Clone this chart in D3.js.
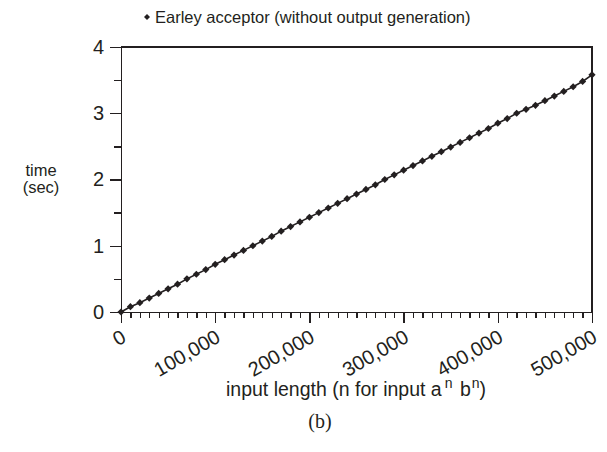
<!DOCTYPE html>
<meta charset="utf-8">
<style>
    body {
        margin: 0;
        background-color: #ffffff;
    }

    text {
        font-family: "Liberation Sans", Arial, sans-serif;
        fill: #231f20;
    }

    .axis path,
    .axis line {
        stroke: #231f20;
        stroke-width: 1.3px;
        shape-rendering: crispEdges;
    }
</style>

<body>
    <svg width="607" height="452"></svg>
    <script src="https://d3js.org/d3.v7.min.js"></script>
    <script>
        // input length n (for input a^n b^n)
        var inputLength = d3.range(0, 500001, 10000);

        // time in seconds
        var timeSec = [
            0, 0.08, 0.14, 0.21, 0.28, 0.35, 0.42, 0.50, 0.57, 0.64, 0.72,
            0.79, 0.86, 0.93, 1.00, 1.07, 1.14, 1.22, 1.29, 1.36, 1.43,
            1.50, 1.57, 1.64, 1.71, 1.78, 1.85, 1.92, 2.00, 2.07, 2.14,
            2.21, 2.28, 2.35, 2.42, 2.49, 2.56, 2.63, 2.70, 2.77, 2.85,
            2.92, 3.00, 3.06, 3.12, 3.19, 3.26, 3.33, 3.40, 3.48, 3.58
        ];

        var xTicks = [0, 100000, 200000, 300000, 400000, 500000];
        var yTicks = [0, 1, 2, 3, 4];
        var seriesName = "Earley acceptor (without output generation)";

        var data = inputLength.map(function(n, i) {
            return { n: n, t: timeSec[i] };
        });

        var svg = d3.select("svg"),
            margin = { top: 47, right: 15, bottom: 140, left: 121 },
            width = +svg.attr("width") - margin.left - margin.right,
            height = +svg.attr("height") - margin.top - margin.bottom;

        var x = d3.scaleLinear().domain([0, 500000]).range([0, width]);
        var y = d3.scaleLinear().domain([0, 4]).range([height, 0]);

        var g = svg.append("g")
            .attr("transform", "translate(" + margin.left + "," + margin.top + ")");

        // top and right frame
        g.append("path")
            .attr("d", "M0,0H" + width + "V" + height)
            .attr("fill", "none")
            .attr("stroke", "#231f20")
            .attr("stroke-width", 1.3)
            .attr("shape-rendering", "crispEdges");

        // minor x ticks
        g.append("g")
            .attr("class", "axis")
            .attr("transform", "translate(0," + height + ")")
            .call(d3.axisBottom(x).tickValues(d3.range(0, 500001, 10000)).tickSize(6).tickFormat(""))
            .select(".domain").remove();

        // major x ticks
        var xAxis = g.append("g")
            .attr("class", "axis")
            .attr("transform", "translate(0," + height + ")")
            .call(d3.axisBottom(x).tickValues(xTicks).tickSize(11).tickSizeOuter(0).tickFormat(d3.format(",")));

        xAxis.selectAll("text")
            .attr("font-size", 20)
            .attr("fill", "#231f20")
            .style("text-anchor", "end")
            .attr("x", 0)
            .attr("y", 0)
            .attr("dy", 0)
            .attr("transform", "translate(6,29) rotate(-30)");

        // minor y ticks
        g.append("g")
            .attr("class", "axis")
            .call(d3.axisLeft(y).tickValues([0.5, 1.5, 2.5, 3.5]).tickSize(7).tickFormat(""))
            .select(".domain").remove();

        var yAxis = g.append("g")
            .attr("class", "axis")
            .call(d3.axisLeft(y).tickValues(yTicks).tickSize(11).tickSizeOuter(0).tickFormat(d3.format("d")));

        yAxis.selectAll("text")
            .attr("font-size", 20)
            .attr("fill", "#231f20")
            .attr("x", -17);

        // series line
        var line = d3.line()
            .x(function(d) { return x(d.n); })
            .y(function(d) { return y(d.t); });

        g.append("path")
            .datum(data)
            .attr("d", line)
            .attr("fill", "none")
            .attr("stroke", "#231f20")
            .attr("stroke-width", 1.6);

        var diamond = d3.symbol().type(d3.symbolSquare).size(26);

        g.selectAll(".pt")
            .data(data)
            .enter().append("path")
            .attr("class", "pt")
            .attr("d", diamond)
            .attr("fill", "#231f20")
            .attr("transform", function(d) {
                return "translate(" + x(d.n) + "," + y(d.t) + ") rotate(45)";
            });

        // legend
        svg.append("path")
            .attr("d", d3.symbol().type(d3.symbolSquare).size(18))
            .attr("fill", "#231f20")
            .attr("transform", "translate(147,17) rotate(45)");
        svg.append("text")
            .attr("x", 155)
            .attr("y", 23)
            .attr("font-size", 16.5)
            .text(seriesName);

        // y title
        var yTitle = svg.append("text")
            .attr("text-anchor", "middle")
            .attr("font-size", 16.5);
        yTitle.append("tspan").attr("x", 41).attr("y", 176).text("time");
        yTitle.append("tspan").attr("x", 41).attr("y", 193).text("(sec)");

        // x title with superscripts
        var xTitle = svg.append("text")
            .attr("x", 356)
            .attr("y", 396)
            .attr("text-anchor", "middle")
            .attr("font-size", 19.5);
        xTitle.append("tspan").text("input length (n for input a");
        xTitle.append("tspan").attr("dx", 3).attr("dy", -8).attr("font-size", 14).text("n");
        xTitle.append("tspan").attr("dx", 2).attr("dy", 8).text(" b");
        xTitle.append("tspan").attr("dx", 1).attr("dy", -8).attr("font-size", 14).text("n");
        xTitle.append("tspan").attr("dy", 8).text(")");

        // caption
        svg.append("text")
            .attr("x", 320)
            .attr("y", 428)
            .attr("text-anchor", "middle")
            .attr("font-size", 20)
            .style("font-family", "'Liberation Serif', serif")
            .text("(b)");
    </script>
</body>
